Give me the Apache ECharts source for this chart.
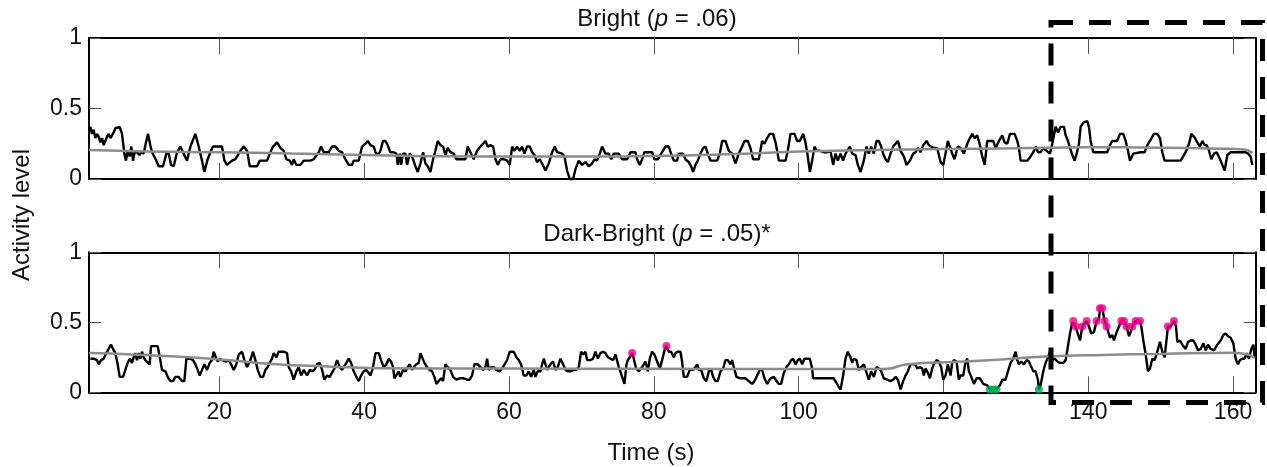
<!DOCTYPE html>
<html>
<head>
<meta charset="utf-8">
<script src="https://cdn.jsdelivr.net/npm/echarts@6/dist/echarts.min.js"></script>
<style>
html,body{margin:0;padding:0;background:#fff;}
#chart{width:1267px;height:467px;}
</style>
</head>
<body>
<div id="chart"></div>
<script>
// ---- DATA ----
const xTicks = [20, 40, 60, 80, 100, 120, 140, 160];
const yTicks = [0, 0.5, 1];
const titleTop = 'Bright ({i|p} = .06)';
const titleBottom = 'Dark-Bright ({i|p} = .05)*';
const xName = 'Time (s)';
const yName = 'Activity level';

// Bright: activity level [time (s), level]
const brightSignal = [
[2.18,.37],[2.41,.32],[2.64,.35],[2.87,.29],[3.10,.32],[3.34,.30],[3.57,.26],[3.80,.29],[4.03,.24],[4.26,.27],
[4.49,.30],[4.72,.32],[4.95,.29],[5.18,.31],[5.41,.33],[5.64,.36],[5.87,.37],[6.24,.37],[6.56,.32],[6.88,.18],
[7.11,.13],[7.34,.20],[7.62,.16],[7.85,.23],[8.08,.13],[8.31,.19],[8.63,.19],[8.95,.17],[9.23,.19],[9.55,.18],
[9.83,.25],[10.15,.32],[10.47,.24],[10.70,.19],[10.93,.18],[11.30,.13],[11.62,.09],[12.22,.09],[12.68,.18],[13.01,.18],
[13.33,.10],[13.70,.09],[14.16,.19],[14.62,.23],[15.08,.18],[15.54,.13],[16.00,.23],[16.69,.32],[17.15,.23],[17.61,.13],
[17.93,.05],[18.39,.14],[18.85,.20],[19.13,.23],[19.68,.23],[20.37,.23],[20.70,.13],[21.06,.10],[21.76,.13],[22.22,.14],
[22.91,.20],[23.37,.23],[23.83,.20],[24.20,.09],[25.21,.09],[25.58,.13],[26.59,.13],[27.05,.19],[27.42,.23],[27.97,.26],
[28.43,.22],[28.89,.20],[29.26,.14],[29.72,.13],[30.04,.10],[30.27,.14],[30.64,.10],[31.19,.10],[31.65,.13],[32.58,.13],
[33.04,.14],[33.73,.19],[34.05,.23],[34.42,.19],[35.11,.19],[35.57,.23],[36.03,.23],[36.49,.20],[36.95,.19],[37.41,.14],
[37.87,.10],[38.33,.10],[38.56,.13],[39.25,.13],[39.71,.23],[40.17,.25],[40.50,.27],[40.87,.24],[41.33,.23],[41.56,.19],
[41.92,.17],
[42.24,.20],[42.61,.27],[42.93,.27],[43.25,.24],[43.62,.19],[44.08,.19],[44.45,.18],[44.64,.10],[44.91,.18],[45.10,.10],
[45.37,.18],[45.70,.18],[45.93,.10],[46.29,.18],[46.62,.16],[47.08,.09],[47.40,.05],[47.77,.11],[48.14,.19],[48.46,.11],
[48.78,.09],[49.15,.05],[49.52,.14],[49.84,.20],[50.16,.27],[50.53,.24],[50.90,.23],[51.22,.17],[51.54,.22],[51.91,.19],
[52.37,.18],[52.74,.14],[53.52,.14],[53.98,.14],[54.31,.23],[54.67,.19],[55.14,.14],[55.60,.20],[56.06,.23],[56.42,.25],
[56.75,.27],[57.07,.23],[57.44,.24],[57.81,.23],[58.13,.14],[58.45,.10],[58.82,.14],[59.28,.14],[59.74,.13],[60.11,.10],
[60.43,.23],[60.75,.20],[61.12,.23],[61.49,.20],[61.81,.23],[62.13,.18],[62.50,.23],[62.87,.23],[63.19,.19],[63.52,.17],
[63.88,.12],[64.25,.14],[64.58,.11],[65.04,.06],[65.50,.11],[65.96,.19],[66.33,.23],[66.65,.19],[67.34,.18],[67.66,.16],
[68.03,.06],[68.40,.00],[68.86,.00],[69.18,.07],[69.64,.13],[70.10,.10],[70.56,.12],[71.02,.09],[71.48,.11],[71.81,.14],
[72.17,.13],[72.54,.18],[72.86,.23],[73.32,.18],[73.78,.18],[74.11,.14],[74.48,.18],[75.17,.18],[75.63,.14],[76.32,.14],
[76.78,.19],[77.47,.19],[77.70,.14],[78.07,.10],[78.39,.14],[78.71,.19],[79.77,.19],[80.09,.14],[80.55,.14],
[81.61,.23],[82.07,.23],[82.39,.18],[82.76,.13],[83.22,.13],[83.45,.18],[84.05,.18],[84.37,.14],[84.83,.12],[85.16,.09],
[85.43,.05],[85.76,.10],[86.08,.13],[86.45,.18],[86.81,.22],[87.14,.23],[87.46,.18],[87.83,.13],[88.75,.13],[89.12,.18],
[89.44,.27],[89.90,.27],[90.36,.20],[90.82,.18],[91.28,.11],[91.74,.18],[92.20,.23],[92.52,.27],[92.98,.27],[93.35,.22],
[93.72,.14],[94.50,.14],[94.96,.27],[95.29,.25],[95.66,.29],[96.02,.32],[96.48,.32],[96.81,.26],[97.04,.20],[97.27,.13],
[98.19,.13],[98.51,.20],[98.88,.32],[99.43,.32],[99.80,.27],[100.17,.27],[100.63,.32],[100.95,.26],[101.27,.16],[101.55,.05],
[101.87,.13],[102.19,.23],[102.47,.20],[102.93,.20],[103.48,.19],[103.94,.19],[104.40,.20],[104.77,.10],[105.10,.18],[105.42,.13],
[105.79,.18],[106.15,.13],[106.48,.18],[106.71,.20],[107.08,.23],[107.40,.18],[107.86,.17],[108.18,.10],[108.55,.05],[109.01,.13],
[109.38,.23],[109.70,.18],[110.02,.23],[110.39,.18],[110.76,.27],[111.08,.27],[111.40,.23],[111.68,.18],[112.00,.14],[112.33,.12],
[112.69,.18],[113.06,.23],[113.38,.25],[113.71,.27],[114.08,.20],[114.54,.16],[114.90,.10],[115.37,.13],[115.83,.18],[116.15,.19],
[116.47,.22],[116.84,.19],[117.21,.24],[117.67,.27],[117.99,.24],[118.31,.23],[118.68,.22],[119.14,.22],[119.60,.12],[119.97,.10],
[120.29,.18],[120.61,.27],[120.89,.23],[121.21,.18],[121.53,.14],[121.99,.23],[122.36,.22],
[122.83,.18],[123.29,.25],[123.66,.29],[123.98,.32],[124.31,.29],[124.67,.31],[125.04,.24],[125.36,.16],[125.69,.10],[126.06,.27],
[126.52,.27],[126.88,.27],[127.21,.22],[127.67,.27],[128.13,.31],[128.45,.26],[128.82,.25],[129.19,.32],[129.83,.32],[130.20,.27],
[130.43,.22],[130.66,.13],[131.58,.13],[132.04,.16],[132.41,.19],[132.78,.23],[133.05,.19],[133.42,.19],[133.79,.22],[134.25,.20],
[134.71,.18],[135.03,.25],[135.50,.37],[135.82,.33],[136.19,.37],[136.65,.37],[136.88,.31],[137.20,.27],[137.48,.22],[137.80,.17],
[138.12,.13],[138.40,.18],[138.72,.25],[138.95,.37],[139.32,.40],[139.87,.41],[140.10,.37],[140.33,.27],[140.70,.19],[141.25,.19],
[142.63,.19],[143.00,.24],[143.32,.27],[144.01,.27],[144.38,.32],[144.84,.32],[145.17,.27],[145.49,.20],[145.76,.13],[146.22,.18],
[147.24,.19],[147.79,.19],[148.16,.24],[148.53,.27],[149.08,.32],[149.54,.32],[149.91,.29],[150.23,.19],[150.55,.13],[152.76,.13],
[153.45,.19],[153.92,.25],[154.24,.32],[154.61,.30],[155.07,.26],[155.43,.23],[155.76,.27],[156.08,.24],[156.36,.24],[156.68,.20],
[157.00,.14],[157.37,.18],[157.74,.19],[158.20,.14],[158.52,.10],[158.84,.06],[159.21,.17],[159.67,.19],[161.74,.19],[162.07,.18],
[162.43,.16],[162.66,.10]
];
const brightTrend = [
[2,.205],[10,.195],[20,.19],[30,.18],[40,.17],[50,.162],[60,.16],[70,.16],[80,.163],[90,.175],
[100,.195],[110,.205],[120,.212],[130,.218],[140,.225],[150,.222],[158,.215],[161.5,.21],[162.7,.185]
];

// Dark-Bright: activity level [time (s), level]
const darkSignal = [
[2.18,.24],[2.64,.24],[3.10,.23],[3.34,.20],[3.66,.23],[4.03,.24],[4.39,.28],[4.72,.31],[5.04,.34],[5.41,.30],
[5.64,.28],[5.96,.20],[6.24,.11],[6.70,.11],[7.02,.16],[7.34,.21],[7.62,.24],[7.94,.21],[8.17,.25],[8.40,.28],
[8.63,.23],[8.86,.28],[9.09,.24],[9.32,.29],[9.55,.25],[9.78,.23],[10.01,.24],[10.38,.20],[10.57,.33],[10.93,.33],
[11.49,.33],[11.85,.23],[12.08,.16],[12.55,.15],[12.87,.11],[13.24,.08],[13.60,.08],[13.93,.11],[14.39,.11],[14.85,.08],
[15.17,.08],[15.45,.24],[16.00,.24],[16.37,.23],[16.69,.20],[17.01,.16],[17.29,.12],[17.61,.16],[17.93,.20],[18.30,.16],
[18.67,.21],[18.99,.23],[19.22,.29],[19.59,.24],[19.78,.22],[20.05,.24],[20.37,.23],[20.60,.24],[20.97,.22],[21.29,.23],
[21.62,.20],[21.99,.16],[22.35,.20],[22.68,.27],[23.14,.29],[23.46,.23],[23.83,.18],[24.29,.23],[24.66,.29],[24.98,.23],
[25.30,.16],[25.67,.11],[26.04,.11],[26.36,.16],[26.68,.18],[27.05,.22],[27.28,.24],[27.51,.28],[27.88,.25],[28.20,.29],
[28.89,.29],[29.35,.28],[29.58,.18],[29.91,.15],[30.27,.09],[30.64,.15],[30.96,.18],[31.29,.12],[31.65,.16],[32.12,.12],
[32.48,.16],[32.81,.15],[33.13,.16],[33.50,.20],[33.87,.21],[34.19,.16],[34.51,.09],[34.88,.12],[35.25,.11],[35.57,.14],
[35.89,.17],[36.26,.23],[36.63,.18],[36.95,.16],[37.18,.18],[37.55,.21],[37.87,.24],[38.19,.21],[38.56,.15],[38.93,.11],
[39.25,.08],[39.58,.12],[39.94,.15],[40.31,.16],[40.50,.15],[40.87,.12],[41.23,.18],[41.56,.28],[42.02,.28],
[42.33,.23],[42.70,.18],[43.07,.20],[43.39,.24],[43.72,.22],[43.99,.18],[44.18,.10],[44.45,.10],[44.77,.15],[45.00,.11],
[45.37,.16],[45.70,.15],[46.02,.18],[46.29,.20],[46.62,.16],[46.85,.18],[47.21,.20],[47.54,.21],[47.77,.28],[48.00,.29],
[48.32,.21],[48.69,.18],[49.06,.16],[49.38,.15],[49.70,.11],[49.98,.06],[50.30,.08],[50.62,.10],[50.90,.08],[51.22,.20],
[51.54,.18],[51.91,.16],[52.28,.11],[52.74,.09],[53.20,.10],[53.75,.10],[54.21,.09],[54.58,.09],[54.90,.12],[55.23,.20],
[55.69,.20],[56.06,.18],[56.42,.16],[56.75,.18],[56.98,.24],[57.21,.16],[57.53,.18],[57.90,.18],[58.27,.16],[58.73,.15],
[59.05,.17],[59.28,.18],[59.74,.23],[60.11,.29],[60.66,.29],[61.03,.25],[61.35,.23],[61.67,.20],[62.04,.12],[62.41,.12],
[62.73,.15],[63.06,.11],[63.42,.16],[63.65,.11],[63.98,.15],[64.35,.15],[64.58,.20],[64.81,.24],[65.04,.20],[65.27,.16],
[65.73,.20],[66.09,.22],[66.42,.16],[66.74,.18],[67.11,.24],[67.48,.20],[67.80,.16],[68.12,.15],[68.49,.15],[68.95,.16],
[69.32,.16],[69.64,.18],[69.96,.29],[70.24,.27],[70.56,.29],[70.79,.23],[71.25,.23],[71.62,.24],[71.94,.29],[72.27,.24],
[72.63,.28],[73.00,.29],[73.32,.28],[73.65,.25],[74.02,.24],[74.38,.23],[74.71,.27],[75.17,.18],[75.63,.11],[75.95,.06],
[76.23,.20],[76.41,.23],[76.69,.25],[77.01,.28],[77.24,.24],[77.56,.17],[77.93,.15],[78.25,.17],[78.62,.20],[78.85,.22],
[79.17,.15],[79.45,.24],[79.77,.29],[80.09,.27],[80.46,.22],[80.83,.17],[81.15,.23],[81.48,.30],[81.75,.33],[82.07,.29],
[82.39,.29],[82.76,.25],[82.99,.28],[83.31,.29],[83.68,.29],[83.91,.22],[84.14,.11],[84.60,.11],[84.97,.16],[85.43,.16],
[85.76,.18],[85.99,.20],[86.22,.16],[86.54,.16],[86.91,.10],[87.27,.08],[87.60,.15],[87.92,.16],[88.20,.11],[88.52,.08],
[88.84,.08],[89.21,.15],[89.58,.17],[89.90,.23],[90.22,.23],[90.59,.20],[90.82,.23],[91.05,.18],[91.42,.11],[91.97,.10],
[92.66,.10],[93.12,.08],[93.58,.06],[93.91,.08],[94.27,.12],[94.64,.16],[94.96,.16],[95.29,.10],[95.66,.06],[96.12,.10],
[96.58,.11],[96.95,.08],[97.27,.06],[97.59,.06],[97.96,.14],[98.33,.18],[98.65,.20],[98.97,.23],[99.25,.24],[99.57,.20],
[99.89,.23],[100.17,.24],[100.49,.20],[100.81,.24],[101.55,.24],[101.87,.17],[102.00,.10],[104.86,.10],[105.42,.05],[105.79,.02],
[106.15,.12],[106.48,.24],[106.80,.29],[107.17,.25],[107.40,.21],[107.63,.24],[108.00,.23],[108.32,.16],[108.55,.15],[109.01,.20],
[109.38,.14],[109.70,.09],[110.02,.15],[110.39,.11],[110.76,.18],[111.08,.17],[111.40,.15],[111.77,.10],[112.23,.09],[112.69,.08],
[113.06,.09],[113.38,.11],[113.71,.09],[114.08,.02],[114.44,.08],[114.77,.12],[115.09,.15],[115.46,.20],[115.83,.20],[116.15,.20],
[116.38,.17],[116.75,.18],[117.07,.17],[117.30,.12],[117.53,.17],[117.85,.14],[118.13,.10],[118.45,.17],[118.68,.20],[119.05,.23],
[119.37,.22],[119.69,.18],[119.97,.09],[120.29,.12],[120.61,.20],[120.98,.12],[121.21,.21],[121.44,.23],[121.81,.22],[122.13,.09],
[122.36,.12],
[122.74,.12],[123.06,.22],[123.29,.24],[123.52,.15],[123.85,.11],[124.21,.06],[124.58,.10],[125.04,.10],[125.50,.06],[126.06,.05],
[126.42,.02],[126.88,.02],[127.34,.02],[127.81,.05],[128.13,.09],[128.59,.09],[128.91,.15],[129.28,.21],[129.65,.24],[129.97,.29],
[130.20,.23],[130.43,.20],[130.75,.22],[131.12,.20],[131.49,.23],[131.81,.22],[132.13,.18],[132.41,.15],[132.73,.15],[133.05,.09],
[133.19,.02],[133.42,.05],[133.79,.15],[134.11,.21],[134.44,.25],[134.71,.29],[135.03,.23],[135.36,.24],[135.73,.22],[136.09,.21],
[136.55,.21],[136.88,.23],[137.20,.33],[137.48,.42],[137.80,.50],[137.94,.51],[138.26,.47],[138.49,.43],[138.86,.37],[139.18,.47],
[139.41,.47],[139.78,.51],[140.10,.47],[140.42,.42],[140.79,.43],[141.16,.51],[141.48,.52],[141.62,.60],[141.94,.60],[142.26,.51],
[142.54,.47],[143.00,.39],[143.32,.41],[143.55,.37],[143.92,.43],[144.25,.47],[144.57,.51],[144.94,.51],[145.30,.47],[145.63,.40],
[145.86,.43],[146.09,.47],[146.55,.51],[147.15,.51],[147.33,.47],[147.61,.37],[147.93,.27],[148.25,.15],[148.53,.17],[148.85,.24],
[149.17,.23],[149.54,.29],[149.91,.36],[150.23,.29],[150.55,.25],[151.01,.47],[151.38,.47],[151.84,.51],[152.12,.47],[152.30,.36],
[152.67,.37],[152.99,.34],[153.45,.31],[153.78,.36],[154.15,.37],[154.51,.37],[154.84,.34],[155.16,.30],[155.53,.31],[155.90,.35],
[156.22,.30],[156.54,.34],[156.91,.31],[157.37,.30],[157.83,.34],[158.29,.37],[158.66,.41],[158.98,.42],[159.30,.40],[159.67,.39],
[160.04,.35],[160.36,.24],[160.68,.20],[160.96,.23],[161.28,.24],[161.60,.24],[161.88,.28],[162.20,.24],[162.53,.31],[162.80,.34],
[162.99,.25]
];
const darkTrend = [
[2,.28],[8,.27],[14,.255],[20,.235],[28,.20],[35,.185],[42,.172],[60,.17],[80,.168],[100,.167],
[112,.167],[115,.20],[122,.218],[128,.235],[134,.255],[142,.267],[150,.274],[160,.282],[162,.27],[163,.245]
];
// significant high (magenta) and low (green) samples
const darkHigh = [
[77.01,.28],[81.75,.33],[137.94,.51],[138.26,.47],[139.18,.47],[139.78,.51],[141.16,.51],[141.62,.60],[141.94,.60],[142.26,.51],
[142.54,.47],[144.57,.51],[144.94,.51],[145.30,.47],[146.09,.47],[146.55,.51],[147.15,.51],[151.01,.47],[151.84,.51]
];
const darkLow = [[126.42,.02],[126.88,.02],[127.34,.02],[133.19,.02]];

// ---- CHART ----
const FONT = '"Liberation Sans", Arial, Helvetica, sans-serif';
const chart = echarts.init(document.getElementById('chart'), null, {renderer: 'canvas'});

function xAxisDef(grid, pos, labels) {
  return {
    type: 'value', gridIndex: grid, position: pos, min: 2, max: 163.1,
    axisLine: {show: true, onZero: false, lineStyle: {color: '#000', width: 2}},
    axisTick: {show: true, inside: true, length: 16, customValues: xTicks, lineStyle: {color: '#555', width: 1}},
    axisLabel: {show: labels, customValues: xTicks, color: '#111', fontSize: 23, fontFamily: FONT, margin: 9},
    splitLine: {show: false}
  };
}
function yAxisDef(grid, pos, labels) {
  return {
    type: 'value', gridIndex: grid, position: pos, min: yTicks[0], max: yTicks[2], interval: 0.5,
    axisLine: {show: true, onZero: false, lineStyle: {color: '#000', width: 2}},
    axisTick: {show: true, inside: true, length: 12, lineStyle: {color: '#555', width: 1}},
    axisLabel: {show: labels, color: '#111', fontSize: 23, fontFamily: FONT, margin: 7},
    splitLine: {show: false}
  };
}

const option = {
  animation: false,
  backgroundColor: '#fff',
  grid: [
    {left: 89, right: 11.5, top: 38, height: 141},
    {left: 89, right: 11.5, top: 252.3, height: 140}
  ],
  xAxis: [xAxisDef(0, 'bottom', false), xAxisDef(0, 'top', false), xAxisDef(1, 'bottom', true), xAxisDef(1, 'top', false)],
  yAxis: [yAxisDef(0, 'left', true), yAxisDef(0, 'right', false), yAxisDef(1, 'left', true), yAxisDef(1, 'right', false)],
  series: [
    {type: 'line', xAxisIndex: 0, yAxisIndex: 0, data: brightSignal, showSymbol: false, symbol: 'none', clip: false,
     lineStyle: {color: '#000', width: 2.4}, z: 2},
    {type: 'line', xAxisIndex: 0, yAxisIndex: 0, data: brightTrend, showSymbol: false, symbol: 'none', smooth: true,
     lineStyle: {color: '#8c8c8c', width: 2.5}, z: 3},
    {type: 'line', xAxisIndex: 2, yAxisIndex: 2, data: darkSignal, showSymbol: false, symbol: 'none', clip: false,
     lineStyle: {color: '#000', width: 2.4}, z: 2},
    {type: 'line', xAxisIndex: 2, yAxisIndex: 2, data: darkTrend, showSymbol: false, symbol: 'none', smooth: true,
     lineStyle: {color: '#8c8c8c', width: 2.5}, z: 3},
    {type: 'scatter', xAxisIndex: 2, yAxisIndex: 2, data: darkHigh, symbolSize: 8,
     itemStyle: {color: '#ec008c'}, z: 4},
    {type: 'scatter', xAxisIndex: 2, yAxisIndex: 2, data: darkLow, symbolSize: 8,
     itemStyle: {color: '#00a651'}, z: 4}
  ],
  graphic: [
    {type: 'text', x: 657, y: 19, z: 10,
     style: {text: titleTop, align: 'center', verticalAlign: 'middle', fill: '#111',
             font: '24px ' + FONT, rich: {i: {fontStyle: 'italic', fontSize: 24, fontFamily: FONT, fill: '#111'}}}},
    {type: 'text', x: 657, y: 234, z: 10,
     style: {text: titleBottom, align: 'center', verticalAlign: 'middle', fill: '#111',
             font: '24px ' + FONT, rich: {i: {fontStyle: 'italic', fontSize: 24, fontFamily: FONT, fill: '#111'}}}},
    {type: 'text', x: 651, y: 453, z: 10,
     style: {text: xName, align: 'center', verticalAlign: 'middle', fill: '#111', font: '24px ' + FONT}},
    {type: 'text', x: 22, y: 215, rotation: Math.PI / 2, z: 10,
     style: {text: yName, align: 'center', verticalAlign: 'middle', fill: '#111', font: '24px ' + FONT}},
    {type: 'rect', z: 100,
     shape: {x: 1051, y: 22.5, width: 211.5, height: 380},
     style: {fill: 'none', stroke: '#000', lineWidth: 5, lineDash: [22, 16]}}
  ]
};
chart.setOption(option);
</script>
</body>
</html>
